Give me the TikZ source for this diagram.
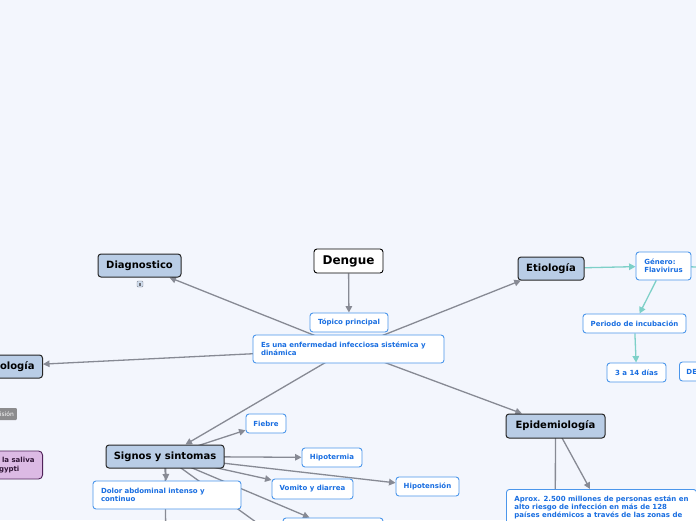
\documentclass[tikz,border=0pt]{standalone}
\usepackage{fontspec}
\setmainfont{DejaVu Sans}
\usepackage{xcolor}
\usetikzlibrary{arrows.meta,backgrounds}
\definecolor{mapbg}{RGB}{243,246,253}
\definecolor{topicfill}{RGB}{185,205,230}
\definecolor{subblue}{RGB}{25,110,225}
\definecolor{subedge}{RGB}{75,150,235}
\definecolor{linkgray}{RGB}{135,138,148}
\definecolor{linkteal}{RGB}{125,208,200}
\definecolor{notepurple}{RGB}{220,186,228}
\definecolor{notedark}{RGB}{80,35,90}
\definecolor{tagGray}{RGB}{140,140,142}
\tikzset{
  rootbox/.style={draw=black,fill=white,rounded corners=3pt,line width=0.9pt,
    font=\bfseries\fontsize{12}{14}\selectfont,inner sep=0pt},
  topicbox/.style={draw=black!85,fill=topicfill,rounded corners=3pt,line width=1pt,
    font=\bfseries\fontsize{10}{12}\selectfont,inner sep=0pt},
  subbox/.style={draw=subedge,fill=white,rounded corners=3pt,line width=0.9pt,
    text=subblue,font=\bfseries\fontsize{7}{8.4}\selectfont,inner sep=0pt,minimum height=19pt},
  link/.style={draw=linkgray,line width=1.3pt,-{Triangle[length=6.5pt,width=6.5pt]}},
  plainlink/.style={draw=linkgray,line width=1.3pt},
  tealink/.style={draw=linkteal,line width=1.3pt,-{Triangle[length=6.5pt,width=6.5pt]}}
}

\begin{document}
\begin{tikzpicture}[
  x=1pt,y=-1pt,
  notebox/.style={draw=notedark,fill=notepurple,rounded corners=4pt,line width=0.9pt,
    text=notedark!60!black,font=\bfseries\fontsize{7}{8.4}\selectfont,align=left,
    inner xsep=8pt,inner ysep=0pt,minimum height=28pt},
  tag/.style={fill=tagGray,text=white,rounded corners=1pt,font=\fontsize{6}{7}\selectfont,
    inner xsep=3pt,inner ysep=0pt,minimum height=12pt},
  textbox/.style={subbox,align=left,inner xsep=8pt}
]
\useasboundingbox (0,0) rectangle (696,520);

% central topic
\node[rootbox,minimum width=69pt,minimum height=24pt] (dengue) at (348.5,261) {Dengue};
\node[subbox,minimum width=78pt] (topico) at (349,322.5) {Tópico principal};
\node[textbox,text width=175pt,minimum height=28pt] (esuna) at (348.5,349)
  {Es una enfermedad infecciosa sistémica y\\dinámica};

% main branches
\node[topicbox,minimum width=83pt,minimum height=23pt] (diag) at (139.5,265.5) {Diagnostico};
\node[draw=linkgray,fill=topicfill!70,rounded corners=1pt,minimum size=6pt,inner sep=0pt]
  (diagicon) at (140,284) {};
\fill[linkgray!80!black] (diagicon.center) ++(-1,-1.5) rectangle ++(2,3);

\node[topicbox,anchor=east,inner xsep=8pt,minimum height=23pt] (fisio) at (43,366.5) {Fisiopatología};
\node[tag,anchor=east] (transm) at (17,414) {Transmisión};
\node[notebox,anchor=east] (saliva) at (43,465) {Se transmite mediante la saliva\\del mosquito Aedes aegypti};

\node[topicbox,minimum width=118pt,minimum height=23pt] (signos) at (165,456.5) {Signos y sintomas};
\node[topicbox,minimum width=66pt,minimum height=23pt] (etio) at (551,268.5) {Etiología};
\node[topicbox,minimum width=99pt,minimum height=24pt] (epi) at (555.5,426) {Epidemiología};

% signos y sintomas
\node[subbox,minimum width=40pt] (fiebre) at (266,423.5) {Fiebre};
\node[subbox,minimum width=60pt] (hipoterm) at (332,457.5) {Hipotermia};
\node[subbox,minimum width=63pt] (hipoten) at (427.5,486.5) {Hipotensión};
\node[subbox,minimum width=81pt,minimum height=20pt] (vomito) at (312.5,489) {Vomito y diarrea};
\node[textbox,text width=132pt,minimum height=28pt] (dolor) at (167,495)
  {Dolor abdominal intenso y\\continuo};
\node[subbox,minimum width=100pt,minimum height=20pt] (otro) at (333,528) {};

% etiologia
\node[textbox,minimum width=55pt,minimum height=28pt] (genero) at (663.5,266) {Género:\\Flavivirus};
\node[subbox,minimum width=103pt] (periodo) at (634.5,323.5) {Periodo de incubación};
\node[subbox,minimum width=59pt] (dias) at (636.5,372.5) {3 a 14 días};
\node[subbox,anchor=west,inner xsep=7pt] (denv) at (679,371.5) {DENV};

% epidemiologia
\node[textbox,anchor=north west,inner ysep=6pt] (aprox) at (506,489)
  {Aprox. 2.500 millones de personas están en\\alto riesgo de infección en más de 128\\países endémicos a través de las zonas de\\};

\coordinate (offA) at (303,556);
\coordinate (offB) at (166,560);
\coordinate (offC) at (555,600);
\coordinate (offD) at (730,268);

\begin{scope}[on background layer]
  \fill[mapbg] (0,0) rectangle (696,520);
  \draw[link] (dengue) -- (topico);
  \draw[link] (esuna.center) -- (diag);
  \draw[link] (esuna.center) -- (etio);
  \draw[link] (esuna.center) -- (fisio);
  \draw[link] (esuna.center) -- (signos);
  \draw[link] (esuna.center) -- (epi);

  \draw[link] (signos.center) -- (fiebre);
  \draw[link] (signos.center) -- (hipoterm);
  \draw[link] (signos.center) -- (hipoten);
  \draw[link] (signos.center) -- (vomito);
  \draw[link] (signos.center) -- (dolor);
  \draw[link] (signos.center) -- (otro.north -| 309.5,0);
  \draw[plainlink] (signos.center) -- (offA);
  \draw[plainlink] (signos.center) -- (offB);

  \draw[tealink] (etio) -- (genero);
  \draw[tealink] (genero) -- (periodo);
  \draw[tealink] (periodo) -- (dias);
  \draw[draw=linkteal,line width=1.3pt] (genero.center) -- (offD);

  \draw[plainlink] (epi.center) -- (offC);
  \draw[link] (epi.center) -- (590,489);
\end{scope}
\end{tikzpicture}
\end{document}
